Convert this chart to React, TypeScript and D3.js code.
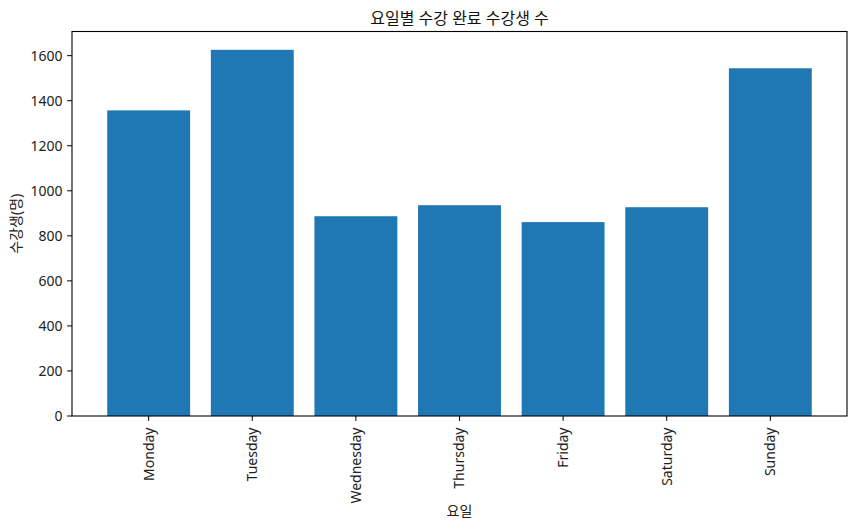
import * as d3 from "d3";

const days = ["Monday", "Tuesday", "Wednesday", "Thursday", "Friday", "Saturday", "Sunday"];
const completions = [1357, 1626, 887, 936, 861, 927, 1544];
const yTickValues = [0, 200, 400, 600, 800, 1000, 1200, 1400, 1600];

const titleText = "요일별 수강 완료 수강생 수";
const xLabel = "요일";
const yLabel = "수강생(명)";

export default function App() {
  const width = 856;
  const height = 530;
  const margin = { top: 31.5, right: 9, bottom: 114, left: 72 };
  const plotRight = width - margin.right;
  const plotBottom = height - margin.bottom;
  const font = "'Noto Sans', 'Noto Sans CJK KR', sans-serif";
  const barColor = "#1f77b4";

  // matplotlib-style: bar width 0.8, 5% padding on both axes
  const span = days.length - 1 + 0.8;
  const xPad = span * 0.05;
  const x = d3.scaleLinear([-0.4 - xPad, days.length - 1 + 0.4 + xPad], [margin.left, plotRight]);
  const maxValue = d3.max(completions) ?? 1;
  const y = d3.scaleLinear([0, maxValue * 1.05], [plotBottom, margin.top]);
  const tickLen = 4.9;

  return (
    <svg
      width={width}
      height={height}
      style={{ position: "absolute", left: 0, top: 0, background: "#fff" }}
      fontFamily={font}
    >
      {completions.map((value, i) => (
        <rect
          key={days[i]}
          x={x(i - 0.4)}
          y={y(value)}
          width={x(i + 0.4) - x(i - 0.4)}
          height={plotBottom - y(value)}
          fill={barColor}
        />
      ))}
      <rect
        x={margin.left}
        y={margin.top}
        width={plotRight - margin.left}
        height={plotBottom - margin.top}
        fill="none"
        stroke="#000"
        strokeWidth={1.1}
      />
      {yTickValues.map((tick) => (
        <g key={tick}>
          <line x1={margin.left - tickLen} x2={margin.left} y1={y(tick)} y2={y(tick)} stroke="#000" strokeWidth={1} />
          <text x={margin.left - 9.5} y={y(tick)} dy="0.35em" textAnchor="end" fontSize={14} fill="#222">
            {tick}
          </text>
        </g>
      ))}
      {days.map((day, i) => (
        <g key={day}>
          <line x1={x(i)} x2={x(i)} y1={plotBottom} y2={plotBottom + tickLen} stroke="#000" strokeWidth={1} />
          <text
            transform={`translate(${x(i)}, ${plotBottom + 11.5}) rotate(-90)`}
            dy="0.35em"
            textAnchor="end"
            fontSize={14}
            fill="#222"
          >
            {day}
          </text>
        </g>
      ))}
      <text x={(margin.left + plotRight) / 2} y={24} textAnchor="middle" fontSize={16} fill="#111">
        {titleText}
      </text>
      <text x={(margin.left + plotRight) / 2} y={516} textAnchor="middle" fontSize={14} fill="#222">
        {xLabel}
      </text>
      <text
        transform={`translate(21, ${(margin.top + plotBottom) / 2}) rotate(-90)`}
        textAnchor="middle"
        fontSize={14}
        fill="#222"
      >
        {yLabel}
      </text>
    </svg>
  );
}
